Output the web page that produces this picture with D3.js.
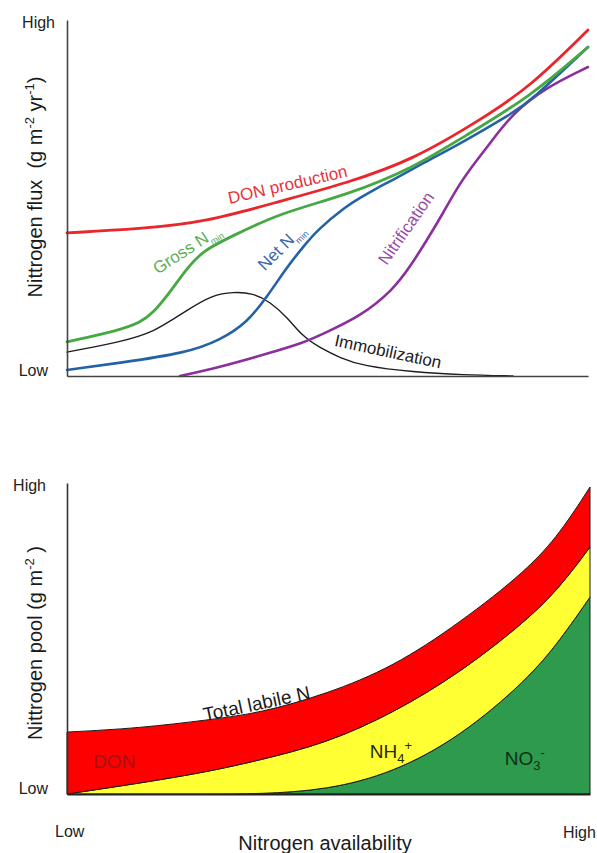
<!DOCTYPE html>
<html>
<head>
<meta charset="utf-8">
<script src="https://cdn.jsdelivr.net/npm/d3@7"></script>
<style>
  body { margin: 0; background: #fff; }
  svg { display: block; font-family: "Liberation Sans", Arial, sans-serif; }
</style>
</head>
<body>
<svg id="chart" width="597" height="853"></svg>
<script>
// both panels are conceptual: x and y run 0 (low) .. 100 (high)

// top panel - nitrogen fluxes, [availability, flux]
var donProduction = [[0,40.2],[14,41.3],[26.9,43.3],[40.9,49.1],[53.7,54.2],[66.4,60.7],[79.3,71.9],[88.9,81.2],[100,97.2]];
var grossNmin = [[0,9.6],[10.2,12.9],[14,15],[16.5,17.6],[19.8,23.6],[23,30.2],[26.1,35.2],[31.3,39],[40.9,45.8],[53.7,50.8],[66.4,58.4],[76,67.1],[88.9,78.4],[100,92.4]];
var netNmin = [[0,1.7],[10.2,3.7],[23,6.5],[29.4,10.1],[34.5,14.9],[38.4,22.2],[42.2,30.6],[45.3,36.2],[48,41],[53.7,47.8],[56.2,50],[59.5,52.8],[62.6,55.1],[69.1,60.4],[75.4,65.2],[85.6,73.9],[88.9,77.2],[100,92.4]];
var immobilization = [[0,6.7],[10.2,9.6],[16.5,12.1],[23,18.5],[28,22.8],[31.9,23.6],[35.7,23.3],[39,20.8],[42.2,16.6],[45.3,11],[48.6,7.9],[52.4,5.1],[56.8,2.8],[66.4,1.1],[76,0.3],[85.6,0]];
var nitrification = [[21.7,0],[29.4,2.5],[39,6.5],[45.3,9.3],[48.6,11.5],[56.2,16.6],[62.6,24.2],[65.8,30.6],[69.1,38.2],[72.2,45.8],[75.4,54.2],[78.7,60.7],[81.2,65.4],[85.6,73.9],[92.1,81.2],[100,86.8]];

// bottom panel - nitrogen pools, stacked
var poolX   = [0, 14, 26.8, 36.9, 49.7, 62.3, 75.1, 88, 94.3, 100];
var no3Pool = [0, 0, 0, 0, 1.3, 6.8, 18.3, 36.7, 49.5, 63.3];
var nh4Pool = [0, 3.5, 7.1, 10.9, 15.1, 19.2, 20.6, 19.2, 17.1, 16.1];
var donPool = [19.9, 17.7, 16.7, 15.1, 15.8, 14.8, 16.1, 16.1, 17.3, 19.3];

var levelLabels = ["Low", "High"];

var svg = d3.select("#chart");

// ---------- top panel ----------
var xTop = d3.scaleLinear().domain([0, 100]).range([67, 588]);
var yTop = d3.scaleLinear().domain([0, 100]).range([376, 20]);

var fluxG = svg.append("g");

var fluxSeries = [
  { data: immobilization, color: "#1e1e1e", width: 1.4 },
  { data: nitrification, color: "#8b2f9c", width: 2.6 },
  { data: netNmin, color: "#2462a6", width: 2.6 },
  { data: grossNmin, color: "#45a843", width: 2.8 },
  { data: donProduction, color: "#e8262b", width: 2.8 }
];

var fluxLine = d3.line()
  .x(d => xTop(d[0]))
  .y(d => yTop(d[1]))
  .curve(d3.curveBasis);

fluxG.selectAll("path.flux")
  .data(fluxSeries)
  .join("path")
  .attr("class", "flux")
  .attr("d", d => fluxLine(d.data))
  .attr("fill", "none")
  .attr("stroke", d => d.color)
  .attr("stroke-width", d => d.width)
  .attr("stroke-linecap", "round");

// axes (lines only, labels placed below)
fluxG.append("g")
  .attr("transform", `translate(${xTop(0)},0)`)
  .call(d3.axisLeft(yTop).tickValues([]).tickSizeOuter(0))
  .call(g => g.select(".domain").attr("stroke", "#444").attr("stroke-width", 1.6));
fluxG.append("g")
  .attr("transform", `translate(0,${yTop(0)})`)
  .call(d3.axisBottom(xTop).tickValues([]).tickSizeOuter(0))
  .call(g => g.select(".domain").attr("stroke", "#444").attr("stroke-width", 1.6));

fluxG.append("text").attr("x", 55).attr("y", yTop(100) + 8)
  .attr("text-anchor", "end").attr("font-size", 16).attr("fill", "#222").text(levelLabels[1]);
fluxG.append("text").attr("x", 48).attr("y", yTop(0))
  .attr("text-anchor", "end").attr("font-size", 16).attr("fill", "#222").text(levelLabels[0]);

// y title
var t1 = fluxG.append("text")
  .attr("transform", `translate(42,187) rotate(-90)`)
  .attr("text-anchor", "middle").attr("font-size", 20).attr("fill", "#1a1a1a");
t1.append("tspan").text("Nittrogen flux\u00a0\u00a0(g m");
t1.append("tspan").attr("dy", -8).attr("font-size", 13).text("-2");
t1.append("tspan").attr("dy", 8).text(" yr");
t1.append("tspan").attr("dy", -8).attr("font-size", 13).text("-1");
t1.append("tspan").attr("dy", 8).text(")");

function curveLabel(g, x, y, angle, color, size, parts) {
  var t = g.append("text")
    .attr("transform", `translate(${x},${y}) rotate(${angle})`)
    .attr("text-anchor", "middle")
    .attr("font-size", size)
    .attr("fill", color);
  parts.forEach(p => {
    var s = t.append("tspan").text(p.text);
    if (p.dy) s.attr("dy", p.dy);
    if (p.size) s.attr("font-size", p.size);
  });
  return t;
}

curveLabel(fluxG, xTop(42.6), yTop(52.2), -13, "#e8333a", 17, [{ text: "DON production" }]);
curveLabel(fluxG, xTop(23.6), yTop(34.3), -33, "#5aae55", 17, [{ text: "Gross N" }, { text: "min", dy: 5, size: 9 }]);
curveLabel(fluxG, xTop(41.9), yTop(35.1), -45, "#3a6aaa", 17, [{ text: "Net N" }, { text: "min", dy: 5, size: 9 }]);
curveLabel(fluxG, xTop(66), yTop(40.6), -55, "#9a4aa8", 17, [{ text: "Nitrification" }]);
curveLabel(fluxG, xTop(61.4), yTop(5.3), 12, "#222", 17, [{ text: "Immobilization" }]);

// ---------- bottom panel ----------
var xBot = d3.scaleLinear().domain([0, 100]).range([67, 590]);
var yBot = d3.scaleLinear().domain([0, 100]).range([794, 483]);

var poolRows = poolX.map((x, i) => ({ x: x, no3: no3Pool[i], nh4: nh4Pool[i], don: donPool[i] }));
var stacked = d3.stack().keys(["no3", "nh4", "don"])(poolRows);
var poolColors = { no3: "#2e9a4e", nh4: "#ffff33", don: "#ff0000" };

var poolArea = d3.area()
  .x(d => xBot(d.data.x))
  .y0(d => yBot(d[0]))
  .y1(d => yBot(d[1]))
  .curve(d3.curveBasis);

var poolG = svg.append("g");

poolG.selectAll("path.pool")
  .data(stacked)
  .join("path")
  .attr("class", "pool")
  .attr("d", poolArea)
  .attr("fill", d => poolColors[d.key])
  .attr("stroke", "#1a1a1a")
  .attr("stroke-width", 1)
  .attr("stroke-linejoin", "round");

poolG.append("g")
  .attr("transform", `translate(${xBot(0)},0)`)
  .call(d3.axisLeft(yBot).tickValues([]).tickSizeOuter(0))
  .call(g => g.select(".domain").attr("stroke", "#333").attr("stroke-width", 1.6));
poolG.append("g")
  .attr("transform", `translate(0,${yBot(0)})`)
  .call(d3.axisBottom(xBot).tickValues([]).tickSizeOuter(0))
  .call(g => g.select(".domain").attr("stroke", "#222").attr("stroke-width", 2));

poolG.append("text").attr("x", 46).attr("y", yBot(100) + 8)
  .attr("text-anchor", "end").attr("font-size", 16).attr("fill", "#222").text(levelLabels[1]);
poolG.append("text").attr("x", 48).attr("y", yBot(0))
  .attr("text-anchor", "end").attr("font-size", 16).attr("fill", "#222").text(levelLabels[0]);
poolG.append("text").attr("x", xBot(0) - 12).attr("y", 837)
  .attr("font-size", 16).attr("fill", "#222").text(levelLabels[0]);
poolG.append("text").attr("x", xBot(100) - 27).attr("y", 838)
  .attr("font-size", 16).attr("fill", "#222").text(levelLabels[1]);

poolG.append("text").attr("x", 325).attr("y", 850)
  .attr("text-anchor", "middle").attr("font-size", 20).attr("fill", "#1a1a1a")
  .text("Nitrogen availability");

var t2 = poolG.append("text")
  .attr("transform", `translate(42,643) rotate(-90)`)
  .attr("text-anchor", "middle").attr("font-size", 20).attr("fill", "#1a1a1a");
t2.append("tspan").text("Nittrogen pool (g m");
t2.append("tspan").attr("dy", -8).attr("font-size", 13).text("-2");
t2.append("tspan").attr("dy", 8).text(" )");

curveLabel(poolG, xBot(36.5), yBot(27), -12, "#1a1a1a", 19, [{ text: "Total labile N" }]);

poolG.append("text").attr("x", xBot(5)).attr("y", yBot(8.4))
  .attr("font-size", 19).attr("fill", "#a51212").text("DON");

var nh = poolG.append("text").attr("x", xBot(57.9)).attr("y", yBot(11.6))
  .attr("font-size", 19).attr("fill", "#2a2a10");
nh.append("tspan").text("NH");
nh.append("tspan").attr("dy", 5).attr("font-size", 13).text("4");
nh.append("tspan").attr("dy", -13).attr("font-size", 13).text("+");

var no = poolG.append("text").attr("x", xBot(83.7)).attr("y", yBot(9.3))
  .attr("font-size", 19).attr("fill", "#103018");
no.append("tspan").text("NO");
no.append("tspan").attr("dy", 5).attr("font-size", 13).text("3");
no.append("tspan").attr("dy", -13).attr("font-size", 13).text("-");
</script>
</body>
</html>
